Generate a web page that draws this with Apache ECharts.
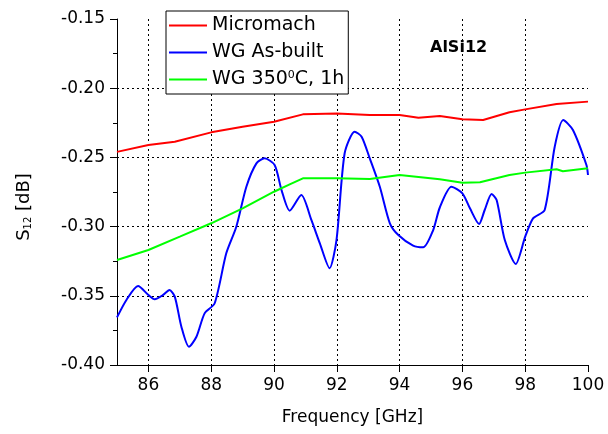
<!DOCTYPE html>
<html>
<head>
<meta charset="utf-8">
<script src="https://cdn.jsdelivr.net/npm/echarts@6/dist/echarts.min.js"></script>
<style>
  html, body { margin: 0; padding: 0; background: #fff; }
  #chart { width: 608px; height: 434px; }
</style>
</head>
<body>
<div id="chart"></div>
<script>
// values
const xTicks = [86, 88, 90, 92, 94, 96, 98, 100];
const yTicks = [-0.40, -0.35, -0.30, -0.25, -0.20, -0.15];

const redFreq = [85, 86, 86.84, 88, 89, 90, 90.92, 92, 93.05, 94, 94.6, 95.28, 96, 96.66, 97.5, 98, 99, 100];
const redS12 = [-0.246, -0.241, -0.2387, -0.2319, -0.2278, -0.2242, -0.2189, -0.2182, -0.2194, -0.2194, -0.2213, -0.2201, -0.2225, -0.223, -0.2174, -0.2153, -0.2114, -0.2097];

const blueFreq = [85.0, 85.3, 85.67, 86.0, 86.2, 86.47, 86.67, 86.84, 87.05, 87.29, 87.53, 87.79, 88.11, 88.48, 88.8, 89.12, 89.44, 89.7, 90.02, 90.24, 90.5, 90.87, 91.19, 91.46, 91.77, 91.99, 92.25, 92.57, 92.79, 93.05, 93.37, 93.69, 93.96, 94.43, 94.75, 95.07, 95.28, 95.65, 96.0, 96.24, 96.53, 96.71, 96.93, 97.09, 97.35, 97.7, 98.0, 98.25, 98.62, 98.94, 99.21, 99.52, 99.95, 100];
const blueS12 = [-0.3656, -0.353, -0.3429, -0.3494, -0.3525, -0.3494, -0.3458, -0.3506, -0.3723, -0.3868, -0.3796, -0.3627, -0.3554, -0.3193, -0.3001, -0.2712, -0.2543, -0.2507, -0.2555, -0.2736, -0.2885, -0.2772, -0.2952, -0.3121, -0.3301, -0.3097, -0.247, -0.2314, -0.235, -0.2507, -0.2712, -0.2976, -0.3061, -0.3138, -0.315, -0.3025, -0.2862, -0.2712, -0.276, -0.2868, -0.2981, -0.288, -0.2764, -0.2808, -0.3097, -0.327, -0.3073, -0.294, -0.288, -0.2423, -0.223, -0.2302, -0.2555, -0.2627];

const greenFreq = [85, 86, 87, 88, 89, 90, 90.5, 90.92, 92, 93.05, 94, 95.28, 96, 96.56, 97.5, 98, 99, 99.2, 100];
const greenS12 = [-0.3241, -0.3169, -0.3073, -0.2976, -0.2868, -0.2748, -0.2695, -0.2651, -0.2651, -0.2656, -0.2627, -0.2658, -0.2683, -0.268, -0.2627, -0.261, -0.2586, -0.26, -0.2579];

const pairs = (xs, ys) => xs.map((x, i) => [x, ys[i]]);

const FONT = "DejaVu Sans";
const chart = echarts.init(document.getElementById("chart"));

const option = {
  animation: false,
  backgroundColor: "#fff",
  grid: { left: 117, right: 20, top: 19, bottom: 69 },
  title: {
    text: "AlSi12",
    left: 430,
    top: 40,
    padding: 0,
    textStyle: { fontFamily: FONT, fontSize: 16, fontWeight: "bold", color: "#000" },
  },
  legend: {
    orient: "vertical",
    left: 166,
    top: 11,
    padding: [5, 4, 5, 3],
    itemGap: 8,
    icon: "rect",
    itemWidth: 38,
    itemHeight: 2,
    backgroundColor: "#fff",
    borderColor: "#000",
    borderWidth: 1,
    borderRadius: 0,
    data: ["Micromach", "WG As-built", "WG 350°C, 1h"],
    formatter: (name) => (name === "WG 350°C, 1h" ? "WG 350{sup|0}C, 1h" : name),
    textStyle: {
      fontFamily: FONT,
      fontSize: 19,
      color: "#000",
      rich: {
        sup: { fontFamily: FONT, fontSize: 11, verticalAlign: "top", color: "#000" },
      },
    },
  },
  xAxis: {
    type: "value",
    min: 85,
    max: 100,
    interval: 2,
    name: "Frequency [GHz]",
    nameLocation: "middle",
    nameGap: 44,
    nameTextStyle: { fontFamily: FONT, fontSize: 17, color: "#000" },
    axisLine: { onZero: false, lineStyle: { color: "#000", width: 1 } },
    axisTick: { show: true, length: 7, lineStyle: { color: "#000" }, customValues: xTicks },
    minorTick: { show: true, splitNumber: 2, length: 4, lineStyle: { color: "#000" } },
    axisLabel: {
      fontFamily: FONT,
      fontSize: 17,
      color: "#000",
      margin: 12,
      customValues: xTicks,
    },
    splitLine: {
      show: true,
      showMaxLine: false,
      lineStyle: { color: "#000", type: [2, 3], width: 1 },
    },
  },
  yAxis: {
    type: "value",
    min: -0.4,
    max: -0.15,
    interval: 0.05,
    name: "S{sub|12} [dB]",
    nameLocation: "middle",
    nameGap: 84,
    nameRotate: 90,
    nameTextStyle: {
      fontFamily: FONT,
      fontSize: 18,
      color: "#000",
      padding: [0, 30, 0, 0],
      rich: {
        sub: { fontFamily: FONT, fontSize: 10, verticalAlign: "bottom", color: "#000" },
      },
    },
    axisLine: { show: true, onZero: false, lineStyle: { color: "#000", width: 1 } },
    axisTick: { show: true, length: 7, lineStyle: { color: "#000" } },
    minorTick: { show: true, splitNumber: 2, length: 4, lineStyle: { color: "#000" } },
    axisLabel: {
      fontFamily: FONT,
      fontSize: 17,
      color: "#000",
      margin: 12,
      formatter: (v) => v.toFixed(2),
    },
    splitLine: {
      show: true,
      showMaxLine: false,
      lineStyle: { color: "#000", type: [2, 3], width: 1 },
    },
  },
  series: [
    {
      name: "Micromach",
      type: "line",
      data: pairs(redFreq, redS12),
      symbol: "none",
      lineStyle: { color: "#ff0000", width: 2 },
      itemStyle: { color: "#ff0000" },
    },
    {
      name: "WG As-built",
      type: "line",
      data: pairs(blueFreq, blueS12),
      symbol: "none",
      smooth: 0.25,
      lineStyle: { color: "#0000ff", width: 2 },
      itemStyle: { color: "#0000ff" },
    },
    {
      name: "WG 350°C, 1h",
      type: "line",
      data: pairs(greenFreq, greenS12),
      symbol: "none",
      lineStyle: { color: "#00ff00", width: 2 },
      itemStyle: { color: "#00ff00" },
    },
  ],
};

chart.setOption(option);
window.addEventListener("resize", () => chart.resize());
</script>
</body>
</html>
